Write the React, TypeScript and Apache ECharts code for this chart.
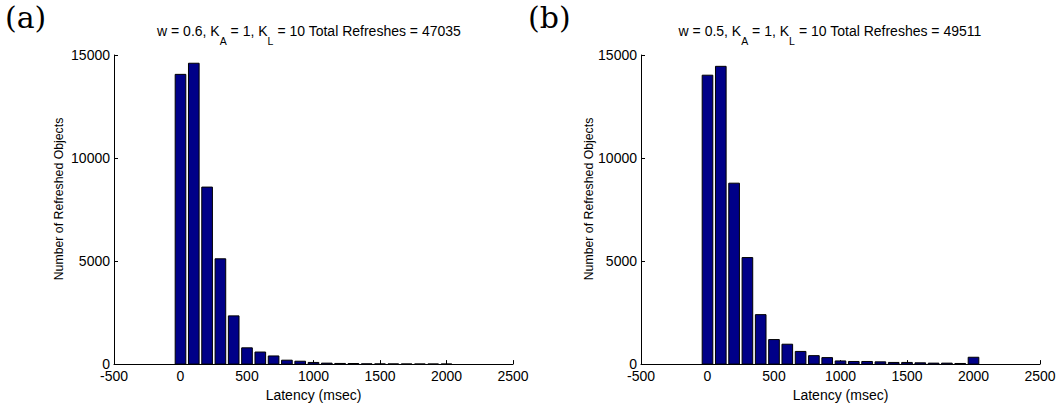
import React, { useEffect, useRef } from "react";
import * as echarts from "echarts";

const binCenters = [0, 100, 200, 300, 400, 500, 600, 700, 800, 900, 1000, 1100, 1200, 1300, 1400, 1500, 1600, 1700, 1800, 1900, 2000];
const countsA = [14060, 14600, 8590, 5110, 2340, 790, 585, 395, 190, 140, 80, 47, 32, 28, 12, 10, 8, 6, 5, 4, 3];
const countsB = [14020, 14450, 8780, 5170, 2400, 1190, 965, 615, 410, 315, 153, 127, 127, 110, 80, 80, 63, 47, 47, 30, 332];
const xTicks = { min: -500, max: 2500, interval: 500 };
const yTicks = { min: 0, max: 15000, interval: 5000 };
const panelLabels = ["(a)", "(b)"];
const titleParts = [
  { w: "0.6", total: "47035" },
  { w: "0.5", total: "49511" },
];
const xName = "Latency (msec)";
const yName = "Number of Refreshed Objects";

const FONT = "'Liberation Sans', Arial, Helvetica, sans-serif";
const FS = 14;

export default function App() {
  const ref = useRef<HTMLDivElement>(null);
  useEffect(() => {
    if (!ref.current) return;
    const chart = echarts.init(ref.current, null, { renderer: "svg" });
    const grids = [
      { left: 114, top: 55, width: 399, height: 315 },
      { left: 641, top: 55, width: 399, height: 315 },
    ];
    const axisCommon = {
      axisLine: { show: true, onZero: false, lineStyle: { color: "#000", width: 1 } },
      axisTick: { show: true, inside: true, length: 4, lineStyle: { color: "#000" } },
      splitLine: { show: false },
      axisLabel: { color: "#000", fontFamily: FONT, fontSize: FS, formatter: (v: number) => String(v) },
      nameTextStyle: { color: "#000", fontFamily: FONT, fontSize: FS },
    };
    const xAxes = [0, 1].map((i) => ({
      ...axisCommon,
      type: "value",
      gridIndex: i,
      min: xTicks.min,
      max: xTicks.max,
      interval: xTicks.interval,
      name: xName,
      nameLocation: "middle",
      nameGap: 20,
      axisLabel: { ...axisCommon.axisLabel, margin: 5 },
    }));
    const yAxes = [0, 1].map((i) => ({
      ...axisCommon,
      type: "value",
      gridIndex: i,
      min: yTicks.min,
      max: yTicks.max,
      interval: yTicks.interval,
      axisLabel: { ...axisCommon.axisLabel, margin: 4 },
    }));
    const mkSeries = (i: number, counts: number[]) => ({
      type: "custom",
      xAxisIndex: i,
      yAxisIndex: i,
      data: binCenters.map((c, k) => [c, counts[k]]),
      renderItem: (params: any, api: any) => {
        const x = api.value(0);
        const y = api.value(1);
        const p0 = api.coord([x - 40, y]);
        const p1 = api.coord([x + 40, 0]);
        return {
          type: "rect",
          shape: { x: p0[0], y: p0[1], width: p1[0] - p0[0], height: p1[1] - p0[1] },
          style: { fill: "#000088", stroke: "#000", lineWidth: 1 },
        };
      },
    });
    const rich = {
      n: { fontFamily: FONT, fontSize: FS, color: "#000", verticalAlign: "top", lineHeight: 16 },
      s: { fontFamily: FONT, fontSize: 10.5, color: "#000", verticalAlign: "top", padding: [11, 0, 0, 0] },
    };
    const titleText = (t: { w: string; total: string }) =>
      `{n|w = ${t.w}, K}{s|A}{n| = 1, K}{s|L}{n| = 10 Total Refreshes = ${t.total}}`;
    const titleX = [309, 830];
    const labelX = [5, 528];
    const yNameX = [59, 589];
    chart.setOption({
      animation: false,
      grid: grids,
      xAxis: xAxes,
      yAxis: yAxes,
      series: [mkSeries(0, countsA), mkSeries(1, countsB)],
      graphic: [0, 1].flatMap((i) => [
        {
          type: "text",
          x: titleX[i],
          y: 24,
          style: { text: titleText(titleParts[i]), rich, align: "center", verticalAlign: "top" },
        },
        {
          type: "text",
          x: yNameX[i],
          y: 199,
          rotation: Math.PI / 2,
          style: {
            text: yName,
            font: `12.3px ${FONT}`,
            fill: "#000",
            align: "center",
            verticalAlign: "middle",
          },
        },
        {
          type: "text",
          x: labelX[i],
          y: 2,
          style: {
            text: panelLabels[i],
            font: "30px 'DejaVu Serif', serif",
            fill: "#000",
            align: "left",
            verticalAlign: "top",
          },
        },
      ]),
    });
    return () => chart.dispose();
  }, []);
  return (
    <div
      ref={ref}
      style={{ position: "fixed", left: 0, top: 0, width: 1063, height: 407, background: "#fff" }}
    />
  );
}
